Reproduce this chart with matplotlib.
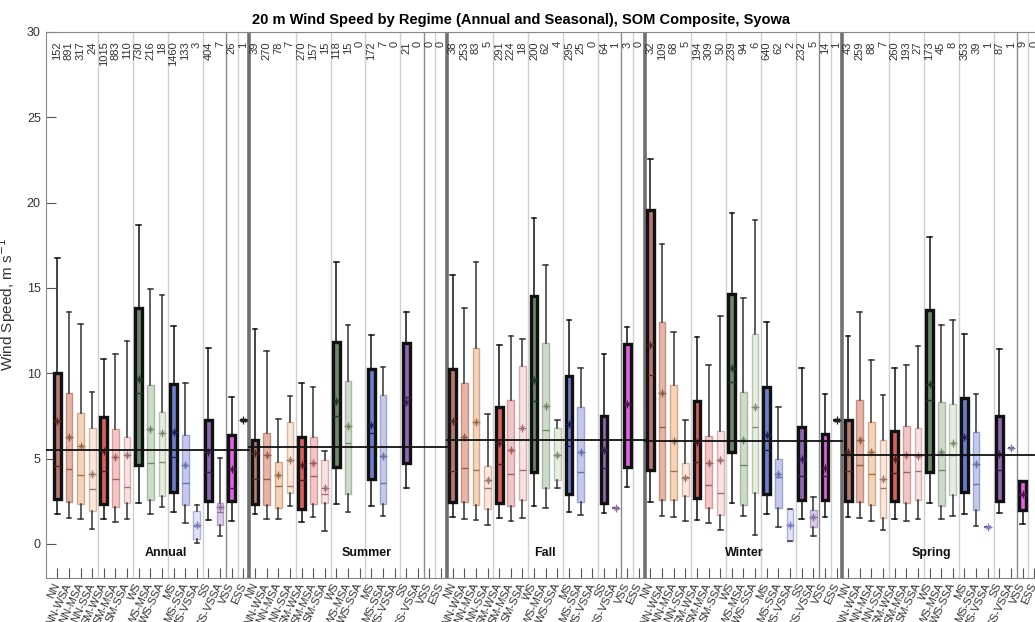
import matplotlib
matplotlib.use('Agg')
import matplotlib.pyplot as plt

plt.rcParams['font.family'] = ['Liberation Sans', 'DejaVu Sans']

regimes = ['NN', 'NN-WSA', 'NN-MSA', 'NN-SSA', 'SM-WSA', 'SM-MSA', 'SM-SSA',
           'WS', 'WS-MSA', 'WS-SSA', 'MS', 'MS-SSA', 'MS-VSSA', 'SS', 'SS-VSSA',
           'VSS', 'ESS']
seasons = ['Annual', 'Summer', 'Fall', 'Winter', 'Spring']

# sample counts
annual_n = [152, 891, 317, 24, 1015, 883, 110, 730, 216, 18, 1460, 133, 3, 404, 7, 26, 1]
summer_n = [39, 270, 78, 7, 270, 157, 15, 118, 15, 0, 172, 7, 0, 21, 0, 0, 0]
fall_n = [38, 253, 83, 5, 291, 224, 18, 200, 62, 4, 295, 25, 0, 64, 1, 3, 0]
winter_n = [32, 109, 68, 5, 194, 309, 50, 239, 94, 6, 640, 62, 2, 232, 5, 14, 1]
spring_n = [43, 259, 88, 7, 260, 193, 27, 173, 45, 8, 353, 39, 1, 87, 1, 9, 0]

# box statistics (m/s); None = no data
annual_lo = [1.74, 1.50, 1.45, 0.88, 1.43, 1.29, 1.43, 2.38, 1.74, 2.19, 1.84, 1.25, 0.08, 1.41, 0.47, 1.35, 7.26]
annual_q1 = [2.62, 2.48, 2.32, 1.95, 2.36, 2.17, 2.38, 4.63, 2.56, 2.81, 3.03, 2.27, 0.27, 2.52, 1.09, 2.54, 7.26]
annual_med = [4.57, 4.39, 4.04, 3.22, 4.28, 3.79, 3.36, 8.83, 4.77, 4.78, 5.12, 3.55, 1.07, 4.20, 1.84, 3.30, 7.26]
annual_mean = [7.20, 6.25, 5.74, 4.12, 5.45, 5.12, 5.19, 9.69, 6.74, 6.50, 6.54, 4.61, 1.10, 5.41, 2.19, 4.39, 7.26]
annual_q3 = [10.00, 8.85, 7.69, 6.77, 7.44, 6.72, 6.25, 13.80, 9.30, 7.71, 9.35, 6.37, 1.93, 7.28, 2.42, 6.40, 7.26]
annual_hi = [16.77, 13.59, 12.87, 8.89, 10.84, 11.11, 11.87, 18.69, 14.92, 14.57, 12.77, 9.45, 2.30, 11.50, 5.02, 8.61, 7.26]

summer_lo = [1.76, 1.46, 1.46, 2.21, 1.27, 1.60, 0.78, 2.36, 1.87, None, 2.23, 1.62, None, 3.26, None, None, None]
summer_q1 = [2.34, 2.27, 2.09, 3.01, 2.03, 2.36, 2.40, 4.49, 2.95, None, 3.79, 2.36, None, 4.72, None, None, None]
summer_med = [3.79, 3.79, 3.40, 3.40, 3.75, 3.98, 2.93, 7.52, 5.94, None, 6.52, 3.59, None, 8.59, None, None, None]
summer_mean = [5.31, 5.19, 4.04, 4.92, 4.63, 4.72, 3.26, 8.36, 6.93, None, 6.95, 5.16, None, 8.30, None, None, None]
summer_q3 = [6.09, 6.48, 4.78, 7.13, 6.29, 6.29, 4.92, 11.83, 9.53, None, 10.25, 8.75, None, 11.80, None, None, None]
summer_hi = [12.57, 11.29, 7.32, 8.67, 9.41, 9.18, 5.43, 16.52, 12.81, None, 12.26, 10.37, None, 13.61, None, None, None]

fall_lo = [1.58, 1.46, 1.40, 1.10, 1.52, 1.35, 1.52, 2.20, 2.10, 3.28, 1.87, 1.70, None, 1.80, 2.10, 3.34, None]
fall_q1 = [2.46, 2.46, 2.28, 2.05, 2.40, 2.20, 2.58, 4.20, 3.28, 3.75, 2.93, 2.46, None, 2.40, 2.10, 4.50, None]
fall_med = [4.30, 4.45, 4.33, 3.28, 4.70, 4.10, 4.33, 8.40, 6.70, 5.20, 5.75, 4.20, None, 4.45, 2.10, 8.20, None]
fall_mean = [7.20, 6.27, 7.15, 3.75, 5.90, 5.50, 6.80, 9.60, 8.10, 5.20, 7.00, 5.40, None, 5.50, 2.10, 8.20, None]
fall_q3 = [10.25, 9.43, 11.48, 4.57, 8.00, 8.45, 10.40, 14.50, 11.80, 6.80, 9.85, 8.00, None, 7.50, 2.10, 11.70, None]
fall_hi = [15.76, 13.83, 16.50, 7.60, 11.65, 12.20, 12.00, 19.10, 16.35, 7.26, 13.10, 10.30, None, 11.13, 2.10, 12.70, None]

winter_lo = [2.46, 1.64, 1.60, 1.35, 1.40, 1.23, 0.82, 2.40, 1.64, 0.53, 1.76, 1.00, 0.18, 1.46, 0.47, 1.58, 7.25]
winter_q1 = [4.33, 2.58, 2.60, 2.80, 2.70, 2.10, 1.70, 5.39, 2.30, 3.00, 2.93, 2.10, 0.18, 2.58, 1.00, 2.58, 7.25]
winter_med = [9.90, 6.85, 4.30, 3.90, 4.80, 3.45, 3.00, 9.50, 4.60, 6.85, 5.50, 3.90, 1.10, 4.00, 1.55, 4.00, 7.25]
winter_mean = [11.66, 8.85, 6.03, 3.87, 6.00, 4.75, 4.90, 10.30, 6.10, 8.00, 6.40, 4.10, 1.10, 5.00, 1.60, 4.45, 7.25]
winter_q3 = [19.57, 13.00, 9.30, 4.75, 8.40, 6.30, 6.60, 14.65, 8.90, 12.30, 9.20, 5.00, 2.05, 6.85, 2.00, 6.45, 7.25]
winter_hi = [22.55, 17.60, 12.40, 7.26, 12.10, 10.50, 13.35, 19.40, 14.40, 19.00, 13.00, 8.00, 2.05, 10.30, 2.75, 8.80, 7.25]

spring_lo = [1.60, 1.52, 1.35, 0.82, 1.46, 1.35, 1.46, 2.40, 1.46, 1.64, 1.76, 1.05, 1.00, 1.80, 5.60, 1.17, None]
spring_q1 = [2.50, 2.46, 2.30, 1.52, 2.50, 2.40, 2.58, 4.20, 2.20, 2.87, 3.05, 2.00, 1.00, 2.50, 5.60, 2.00, None]
spring_med = [4.30, 4.60, 4.10, 3.28, 4.15, 4.20, 4.30, 8.45, 4.33, 5.20, 5.20, 3.50, 1.00, 4.33, 5.60, 2.85, None]
spring_mean = [5.40, 6.10, 5.40, 3.80, 5.00, 5.20, 5.15, 9.37, 5.40, 5.90, 6.27, 4.70, 1.00, 5.27, 5.60, 2.90, None]
spring_q3 = [7.26, 8.45, 7.15, 6.10, 6.60, 6.90, 6.80, 13.70, 8.30, 8.20, 8.55, 6.56, 1.00, 7.50, 5.60, 3.70, None]
spring_hi = [12.20, 13.60, 10.80, 8.70, 10.30, 10.50, 11.60, 18.00, 12.80, 13.10, 12.30, 8.80, 1.00, 11.40, 5.60, 3.70, None]

# seasonal mean reference lines
season_mean = [5.53, 5.66, 6.10, 6.03, 5.20]

# styles per regime
fills = ['#b87a72', '#e6b5a5', '#f6d4b8', '#fbe8db', '#d9625f', '#f2c6c6', '#f8e2e2',
         '#6b8a6b', '#cddbc9', '#e5eedf', '#6c7fd0', '#c5c9ec', '#e2e3f6',
         '#9168b5', '#ddcbe6', '#e262e0', '#cccccc']
edges = ['#111111', '#c08f85', '#d0a88a', '#d8b8a4', '#111111', '#d49a9a', '#d9b0b0',
         '#111111', '#a8b8a5', '#b8c6b0', '#111111', '#9da4d0', '#aeb1dc',
         '#111111', '#b7a0c8', '#111111', '#222222']
markc = ['#5a2a25', '#9a5a4a', '#a0704a', '#a07a64', '#5a1a1a', '#a06060', '#a07070',
         '#1e3a1e', '#708a6c', '#7a9070', '#1a2260', '#6a72b0', '#7a80c0',
         '#3a1a5a', '#8a70a0', '#5a105a', '#222222']
heavy = [True, False, False, False, True, False, False, True, False, False,
         True, False, False, True, False, True, True]

season_data = [
    (annual_n, annual_lo, annual_q1, annual_med, annual_mean, annual_q3, annual_hi),
    (summer_n, summer_lo, summer_q1, summer_med, summer_mean, summer_q3, summer_hi),
    (fall_n, fall_lo, fall_q1, fall_med, fall_mean, fall_q3, fall_hi),
    (winter_n, winter_lo, winter_q1, winter_med, winter_mean, winter_q3, winter_hi),
    (spring_n, spring_lo, spring_q1, spring_med, spring_mean, spring_q3, spring_hi),
]
label_x = [10.3, 27.6, 42.9, 60.1, 76.2]

fig = plt.figure(figsize=(10.35, 6.22), dpi=100)
ax = fig.add_axes([0.0441, 0.0707, 0.9664, 0.8779])
nreg = len(regimes)

for s, (ns, lo, q1, med, mean, q3, hi) in enumerate(season_data):
    base = s * nreg
    for b in [4.5, 7.5, 10.5, 13.5, 16.5]:
        ax.axvline(base + b, color='#cfcfcf', lw=1.0, zorder=0)
    ax.axvline(base + 15.5, color='#8a8a8a', lw=1.0, zorder=0)
    if s < len(season_data) - 1:
        ax.axvline(base + nreg + 0.5, color='#707070', lw=2.6, zorder=0)
    ax.plot([base + 0.5 if s > 0 else 0, base + nreg + 0.5], [season_mean[s]] * 2,
            color='#111111', lw=1.3, zorder=6)
    for i in range(nreg):
        pos = base + i + 1
        ax.text(pos, 29.45, str(ns[i]), rotation=90, ha='center', va='top',
                fontsize=8, color='#333333')
        if lo[i] is None:
            continue
        st = [dict(whislo=lo[i], q1=q1[i], med=med[i], mean=mean[i], q3=q3[i],
                   whishi=hi[i], fliers=[])]
        lw = 2.4 if heavy[i] else 1.0
        wc = '#111111' if heavy[i] else '#333333'
        ax.bxp(st, positions=[pos], widths=0.58, patch_artist=True, showmeans=True,
               showfliers=False, manage_ticks=False, capwidths=0.4,
               boxprops=dict(facecolor=fills[i], edgecolor=edges[i], linewidth=lw),
               medianprops=dict(color=markc[i], linewidth=1.0),
               meanprops=dict(marker='+', markeredgecolor=markc[i], markersize=6,
                              markeredgewidth=0.9),
               whiskerprops=dict(color=wc, linewidth=1.1),
               capprops=dict(color=wc, linewidth=1.1))
        ax.plot([pos], [mean[i]], marker='x', ms=3.2, mew=0.7, color=markc[i], zorder=5)
    ax.text(label_x[s], -0.55, seasons[s], ha='center', va='center',
            fontsize=9, fontweight='bold', color='#111111')

ax.set_xlim(0, 86)
ax.set_ylim(-2, 30)
ax.set_yticks([0, 5, 10, 15, 20, 25, 30])
ax.set_xticks(range(1, 5 * nreg + 1))
ax.set_xticklabels(regimes * 5, rotation=65, ha='right', va='center',
                   rotation_mode='anchor', fontsize=8, color='#333333')
ax.tick_params(axis='both', direction='in', length=7, colors='#555555',
               labelcolor='#333333')
ax.tick_params(axis='y', labelsize=9)
ax.tick_params(axis='x', pad=4)
for sp in ax.spines.values():
    sp.set_color('#888888')
ax.set_ylabel('Wind Speed, m s$^{-1}$', fontsize=11, color='#333333', labelpad=6)
fig.text(521 / 1035, 1 - 20 / 622,
         '20 m Wind Speed by Regime (Annual and Seasonal), SOM Composite, Syowa',
         ha='center', va='center', fontsize=10.5, fontweight='bold')

fig.savefig('out.png', dpi=100)
